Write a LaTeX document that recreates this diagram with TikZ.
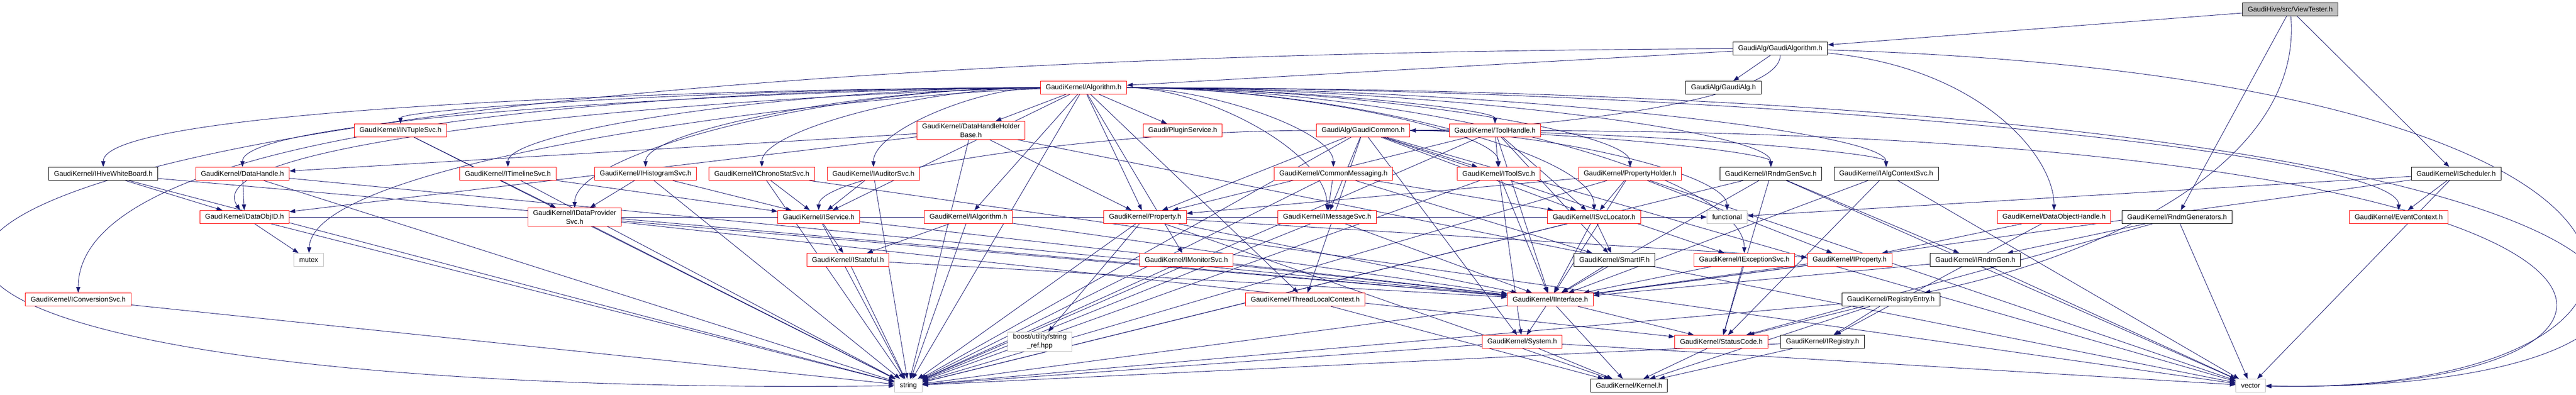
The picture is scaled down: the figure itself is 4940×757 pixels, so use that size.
\documentclass[tikz,border=0pt]{standalone}
\usepackage{fontspec}
\setmainfont{Liberation Sans}
\usetikzlibrary{arrows.meta,calc}
\definecolor{edgeblue}{HTML}{191970}
\definecolor{sysgray}{HTML}{BFBFBF}
\pgfdeclarelayer{bg}
\pgfsetlayers{bg,main}

\begin{document}
\begin{tikzpicture}[
                    -{Triangle[length=11pt,width=8pt]},
                    node distance=75pt,
                    every edge/.append style={draw=edgeblue, line width=0.9pt},
                    font=\fontsize{13.33}{17}\selectfont,
                    every node/.style={fill=white, inner xsep=10pt, inner ysep=4pt,
                                       minimum height=25pt, align=center, line width=1pt},
                    own/.style={draw=red},
                    doc/.style={draw=black},
                    sys/.style={draw=sysgray},
                    root/.style={draw=black, fill=sysgray},
                    via/.style 2 args={to path={.. controls #1 and #2 .. (\tikztotarget)}},
                    sweep/.style={to path={.. controls ($(\tikztostart)!0.5!(\tikztotarget |- \tikztostart)$)
                                              and ($(\tikztotarget)!0.5!(\tikztotarget |- \tikztostart)$) .. (\tikztotarget)}}
                ]
                \useasboundingbox (0,0) rectangle (4940pt,-757pt);

                \node[root] (VT)          at (4392pt,-18pt)                               {GaudiHive/src/ViewTester.h};
                \node[doc]  (GAlgo)       [below of=VT, xshift=-978pt]                    {GaudiAlg/GaudiAlgorithm.h};
                \node[doc]  (GAlg)        [below of=GAlgo, xshift=-109pt]                 {GaudiAlg/GaudiAlg.h};
                \node[own]  (Alg)         [left  of=GAlg, node distance=1227pt]           {GaudiKernel/Algorithm.h};

                \node[own]  (INTuple)     [below of=Alg, node distance=82pt, xshift=-1310pt] {GaudiKernel/INTupleSvc.h};
                \node[own]  (DHHB)        [right of=INTuple, node distance=1094pt]        {GaudiKernel/DataHandleHolder\\Base.h};
                \node[own]  (Plugin)      [right of=DHHB, node distance=406pt]            {Gaudi/PluginService.h};
                \node[own]  (GCommon)     [right of=Plugin, node distance=346pt]          {GaudiAlg/GaudiCommon.h};
                \node[own]  (ToolHandle)  [right of=GCommon, node distance=253pt]         {GaudiKernel/ToolHandle.h};

                \node[doc]  (IHWB)        [below of=INTuple, node distance=83pt, xshift=-570pt] {GaudiKernel/IHiveWhiteBoard.h};
                \node[own]  (DataHandle)  [right of=IHWB, node distance=267pt]            {GaudiKernel/DataHandle.h};
                \node[own]  (ITimeline)   [right of=DataHandle, node distance=509pt]      {GaudiKernel/ITimelineSvc.h};
                \node[own]  (IHisto)      [right of=ITimeline, node distance=264pt]       {GaudiKernel/IHistogramSvc.h};
                \node[own]  (IChrono)     [right of=IHisto, node distance=223pt]          {GaudiKernel/IChronoStatSvc.h};
                \node[own]  (IAuditor)    [right of=IChrono, node distance=214pt]         {GaudiKernel/IAuditorSvc.h};
                \node[own]  (CommonMsg)   [right of=IAuditor, node distance=882pt]        {GaudiKernel/CommonMessaging.h};
                \node[own]  (IToolSvc)    [right of=CommonMsg, node distance=317pt]       {GaudiKernel/IToolSvc.h};
                \node[own]  (PropHolder)  [right of=IToolSvc, node distance=252pt]        {GaudiKernel/PropertyHolder.h};
                \node[doc]  (IRndmGenSvc) [right of=PropHolder, node distance=270pt]      {GaudiKernel/IRndmGenSvc.h};
                \node[doc]  (IAlgCtx)     [right of=IRndmGenSvc, node distance=221pt]     {GaudiKernel/IAlgContextSvc.h};
                \node[doc]  (ISched)      [right of=IAlgCtx, node distance=1093pt]        {GaudiKernel/IScheduler.h};

                \node[own]  (DataObjID)   [below of=DataHandle, node distance=83pt, xshift=4pt] {GaudiKernel/DataObjID.h};
                \node[own]  (IDataProv)   [right of=DataObjID, node distance=633pt]       {GaudiKernel/IDataProvider\\Svc.h};
                \node[own]  (IService)    [right of=IDataProv, node distance=468pt]       {GaudiKernel/IService.h};
                \node[own]  (IAlgorithm)  [right of=IService, node distance=287pt]        {GaudiKernel/IAlgorithm.h};
                \node[own]  (Property)    [right of=IAlgorithm, node distance=339pt]      {GaudiKernel/Property.h};
                \node[own]  (IMessage)    [right of=Property, node distance=349pt]        {GaudiKernel/IMessageSvc.h};
                \node[own]  (ISvcLoc)     [right of=IMessage, node distance=512pt]        {GaudiKernel/ISvcLocator.h};
                \node[sys]  (functional)  [right of=ISvcLoc, node distance=255pt]         {functional};
                \node[own]  (DOH)         [right of=functional, node distance=627pt]      {GaudiKernel/DataObjectHandle.h};
                \node[doc]  (RndmGen)     [right of=DOH, node distance=236pt]             {GaudiKernel/RndmGenerators.h};
                \node[own]  (EventCtx)    [right of=RndmGen, node distance=425pt]         {GaudiKernel/EventContext.h};

                \node[sys]  (mutex)       [below of=DataObjID, node distance=82pt, xshift=123pt] {mutex};
                \node[own]  (IStateful)   [right of=mutex, node distance=1034pt]          {GaudiKernel/IStateful.h};
                \node[own]  (IMonitor)    [right of=IStateful, node distance=649pt]       {GaudiKernel/IMonitorSvc.h};
                \node[doc]  (SmartIF)     [right of=IMonitor, node distance=821pt]        {GaudiKernel/SmartIF.h};
                \node[own]  (IException)  [right of=SmartIF, node distance=249pt]         {GaudiKernel/IExceptionSvc.h};
                \node[own]  (IProperty)   [right of=IException, node distance=202pt]      {GaudiKernel/IProperty.h};
                \node[doc]  (IRndmGen)    [right of=IProperty, node distance=241pt]       {GaudiKernel/IRndmGen.h};

                \node[own]  (IConversion) [below of=mutex, node distance=76pt, xshift=-442pt] {GaudiKernel/IConversionSvc.h};
                \node[own]  (ThreadLocal) [right of=IConversion, node distance=2353pt]    {GaudiKernel/ThreadLocalContext.h};
                \node[own]  (IInterface)  [right of=ThreadLocal, node distance=470pt]     {GaudiKernel/IInterface.h};
                \node[doc]  (RegEntry)    [right of=IInterface, node distance=653pt]      {GaudiKernel/RegistryEntry.h};

                \node[sys]  (boost)       [below of=IConversion, node distance=81pt, xshift=1844pt] {boost/utility/string\\\_ref.hpp};
                \node[own]  (System)      [right of=boost, node distance=925pt]           {GaudiKernel/System.h};
                \node[own]  (StatusCode)  [right of=System, node distance=382pt]          {GaudiKernel/StatusCode.h};
                \node[doc]  (IRegistry)   [right of=StatusCode, node distance=194pt]      {GaudiKernel/IRegistry.h};

                \node[sys]  (string)      [below of=boost, node distance=84pt, xshift=-252pt] {string};
                \node[doc]  (Kernel)      [right of=string, node distance=1382pt]         {GaudiKernel/Kernel.h};
                \node[sys]  (vector)      [right of=Kernel, node distance=1192pt]         {vector};

                \begin{pgfonlayer}{bg}
                \path
                (VT) edge (GAlgo)
                (VT) edge (RndmGen)
                (VT) edge[via={(4418pt,-324pt)}{(4004pt,-498pt)}] (RegEntry)
                (VT) edge (ISched)
                (GAlgo) edge (Alg)
                (GAlgo) edge (GAlg)
                (GAlgo) edge[via={(3414pt,-200pt)}{(2900pt,-250pt)}] (GCommon)
                (GAlgo) edge[via={(3800pt,-130pt)}{(3939pt,-300pt)}] (DOH)
                (GAlgo) edge[via={(-800pt,-110pt)}{(-850pt,-770pt)}] (string)
                (GAlgo) edge[via={(5300pt,-150pt)}{(5250pt,-760pt)}] (vector)
                (Alg) edge[via={(1628pt,-168pt)}{(150pt,-192pt)}] (IConversion)
                (Alg) edge[via={(1500pt,-168pt)}{(198pt,-200pt)}] (IHWB)
                (Alg) edge[via={(1550pt,-170pt)}{(465pt,-220pt)}] (DataHandle)
                (Alg) edge[via={(1600pt,-175pt)}{(360pt,-250pt)}] (DataObjID)
                (Alg) edge[via={(1650pt,-180pt)}{(600pt,-300pt)}] (mutex)
                (Alg) edge[sweep] (INTuple)
                (Alg) edge (DHHB)
                (Alg) edge (Plugin)
                (Alg) edge[sweep] (ToolHandle)
                (Alg) edge[sweep] (ITimeline)
                (Alg) edge[sweep] (IHisto)
                (Alg) edge[sweep] (IChrono)
                (Alg) edge[sweep] (IAuditor)
                (Alg) edge[sweep] (CommonMsg)
                (Alg) edge[sweep] (IToolSvc)
                (Alg) edge[sweep] (PropHolder)
                (Alg) edge[sweep] (IRndmGenSvc)
                (Alg) edge[sweep] (IAlgCtx)
                (Alg) edge[sweep] (EventCtx)
                (Alg) edge[sweep] (IDataProv)
                (Alg) edge (IService)
                (Alg) edge (IAlgorithm)
                (Alg) edge (Property)
                (Alg) edge[sweep] (IMessage)
                (Alg) edge[sweep] (ISvcLoc)
                (Alg) edge (IMonitor)
                (Alg) edge[sweep] (IException)
                (Alg) edge (ThreadLocal)
                (Alg) edge (string)
                (Alg) edge[via={(5500pt,-170pt)}{(5400pt,-760pt)}] (vector)
                (GCommon) edge (IMessage)
                (GCommon) edge (IToolSvc)
                (GCommon) edge (ISvcLoc)
                (GCommon) edge[sweep] (IService)
                (GCommon) edge (Property)
                (GCommon) edge[sweep] (IAlgCtx)
                (GCommon) edge[sweep] (IRndmGenSvc)
                (GCommon) edge (IException)
                (GCommon) edge[sweep] (functional)
                (GCommon) edge (System)
                (GCommon) edge (ThreadLocal)
                (GCommon) edge (string)
                (GCommon) edge (vector)
                (ToolHandle) edge (IToolSvc)
                (ToolHandle) edge (Property)
                (ToolHandle) edge (ISvcLoc)
                (ToolHandle) edge (SmartIF)
                (ToolHandle) edge (IInterface)
                (ToolHandle) edge (string)
                (ToolHandle) edge[via={(5300pt,-260pt)}{(5200pt,-760pt)}] (vector)
                (DHHB) edge (DataHandle)
                (DHHB) edge (DataObjID)
                (DHHB) edge (Property)
                (DHHB) edge (string)
                (DHHB) edge (vector)
                (INTuple) edge (IDataProv)
                (INTuple) edge (string)
                (IHWB) edge (DataObjID)
                (IHWB) edge (string)
                (IHWB) edge (IInterface)
                (DataHandle) edge (DataObjID)
                (DataHandle) edge (string)
                (DataHandle) edge (IInterface)
                (ITimeline) edge (IService)
                (ITimeline) edge (string)
                (IHisto) edge (IDataProv)
                (IHisto) edge (IService)
                (IHisto) edge (string)
                (IChrono) edge (IService)
                (IChrono) edge (string)
                (IChrono) edge (vector)
                (IAuditor) edge (IService)
                (IAuditor) edge (string)
                (CommonMsg) edge (IMessage)
                (CommonMsg) edge (ISvcLoc)
                (CommonMsg) edge (SmartIF)
                (CommonMsg) edge (string)
                (IToolSvc) edge (IInterface)
                (IToolSvc) edge (System)
                (IToolSvc) edge (string)
                (PropHolder) edge (ISvcLoc)
                (PropHolder) edge (Property)
                (PropHolder) edge (IProperty)
                (PropHolder) edge (IInterface)
                (PropHolder) edge (string)
                (PropHolder) edge (vector)
                (IRndmGenSvc) edge (IRndmGen)
                (IRndmGenSvc) edge (IInterface)
                (IRndmGenSvc) edge (StatusCode)
                (IRndmGenSvc) edge (string)
                (IRndmGenSvc) edge (vector)
                (IAlgCtx) edge (IInterface)
                (IAlgCtx) edge (StatusCode)
                (IAlgCtx) edge (vector)
                (ISched) edge (EventCtx)
                (ISched) edge (functional)
                (ISched) edge (IInterface)
                (ISched) edge (vector)
                (DataObjID) edge (mutex)
                (DataObjID) edge (string)
                (DataObjID) edge (functional)
                (IDataProv) edge (string)
                (IDataProv) edge (IInterface)
                (IDataProv) edge (StatusCode)
                (IService) edge (IStateful)
                (IService) edge (IInterface)
                (IService) edge (string)
                (IAlgorithm) edge (IStateful)
                (IAlgorithm) edge (IInterface)
                (IAlgorithm) edge (string)
                (Property) edge (boost)
                (Property) edge (string)
                (Property) edge (IProperty)
                (Property) edge (IInterface)
                (Property) edge (Kernel)
                (IMessage) edge (IInterface)
                (IMessage) edge (string)
                (ISvcLoc) edge (IInterface)
                (ISvcLoc) edge (SmartIF)
                (ISvcLoc) edge (string)
                (DOH) edge (IProperty)
                (DOH) edge (IRegistry)
                (RndmGen) edge (IRndmGen)
                (RndmGen) edge (StatusCode)
                (RndmGen) edge (vector)
                (IStateful) edge (string)
                (IStateful) edge (IInterface)
                (IMonitor) edge (IInterface)
                (IMonitor) edge (string)
                (SmartIF) edge (IInterface)
                (IException) edge (IInterface)
                (IException) edge (StatusCode)
                (IProperty) edge (IInterface)
                (IProperty) edge (string)
                (IRndmGen) edge (IInterface)
                (IRndmGen) edge (vector)
                (IConversion) edge (string)
                (ThreadLocal) edge (Kernel)
                (IInterface) edge (System)
                (IInterface) edge (Kernel)
                (IInterface) edge (StatusCode)
                (RegEntry) edge (IRegistry)
                (RegEntry) edge (StatusCode)
                (RegEntry) edge (Kernel)
                (RegEntry) edge (string)
                (System) edge (Kernel)
                (System) edge (string)
                (System) edge (vector)
                (StatusCode) edge (Kernel)
                (IRegistry) edge (Kernel)
                (IRegistry) edge (string)
                ;
                \end{pgfonlayer}
            \end{tikzpicture}
\end{document}
